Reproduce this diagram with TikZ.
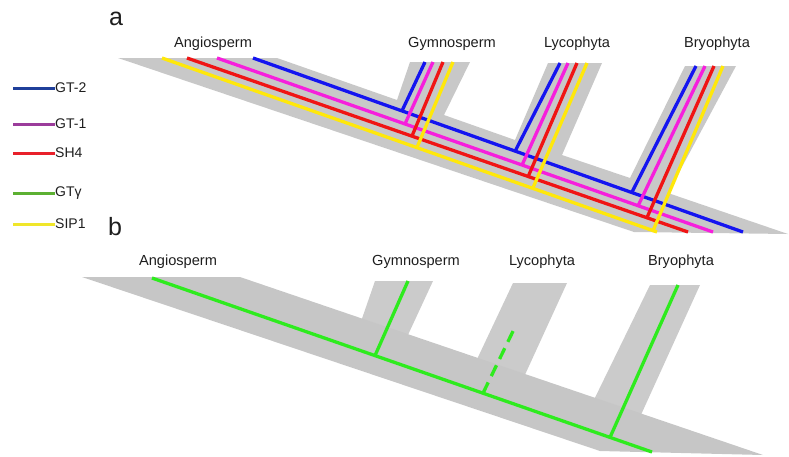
\documentclass[tikz,border=0pt]{standalone}
\usepackage{fontspec}
\setmainfont{Liberation Sans}
\usetikzlibrary{calc}
\definecolor{greya}{HTML}{C8C8C8}
\definecolor{greybr}{HTML}{CBCBCB}
\definecolor{greytr}{HTML}{C6C6C6}
\definecolor{txt}{HTML}{1E1E1E}
\definecolor{cblue}{HTML}{1414F0}
\definecolor{cmag}{HTML}{F61FDC}
\definecolor{cred}{HTML}{F01414}
\definecolor{cyel}{HTML}{FFE80A}
\definecolor{cgreen}{HTML}{2EEB1E}
\definecolor{lgblue}{HTML}{1F3F9A}
\definecolor{lgpurp}{HTML}{9B3C9B}
\definecolor{lgred}{HTML}{E8202A}
\definecolor{lggreen}{HTML}{5CB032}
\definecolor{lgyel}{HTML}{F0E62A}
\begin{document}
\begin{tikzpicture}[x=1pt,y=-1pt,
  lbl/.style={font=\fontsize{14.6}{17}\selectfont, text=txt, anchor=base, inner sep=0pt},
  plbl/.style={font=\fontsize{25}{30}\selectfont, text=txt, anchor=base, inner sep=0pt},
  leg/.style={font=\fontsize{14}{16}\selectfont, text=txt, anchor=west, inner sep=0pt},
  ln/.style={line width=3.3pt},
  lgl/.style={line width=3pt}]
\useasboundingbox (0,0) rectangle (789,456);

% ---------------- panel a ----------------
\fill[greya] (118,58) -- (277,58) -- (397,100) -- (410,62) -- (470,62) -- (444,115)
  -- (515,140) -- (548,63) -- (602,63) -- (562,155) -- (630,178) -- (685,66)
  -- (736,66) -- (668,193) -- (788,234) -- (634,232) -- cycle;

\coordinate (B0) at (253,58); \coordinate (B1) at (743,232);
\coordinate (M0) at (217,58); \coordinate (M1) at (713,232);
\coordinate (R0) at (187,58); \coordinate (R1) at (688,232);
\coordinate (Y0) at (162,58); \coordinate (Y1) at (657,232);

% junctions
\coordinate (gB) at ($(B0)!0.304!(B1)$); \coordinate (gM) at ($(M0)!0.379!(M1)$);
\coordinate (gR) at ($(R0)!0.449!(R1)$); \coordinate (gY) at ($(Y0)!0.515!(Y1)$);
\coordinate (lB) at ($(B0)!0.535!(B1)$); \coordinate (lM) at ($(M0)!0.615!(M1)$);
\coordinate (lR) at ($(R0)!0.681!(R1)$); \coordinate (lY) at ($(Y0)!0.749!(Y1)$);
\coordinate (bB) at ($(B0)!0.773!(B1)$); \coordinate (bM) at ($(M0)!0.849!(M1)$);
\coordinate (bR) at ($(R0)!0.918!(R1)$); \coordinate (bY) at ($(Y0)!0.992!(Y1)$);
% branch tips
\coordinate (gBt) at (425,62); \coordinate (gMt) at (433,62);
\coordinate (gRt) at (443,62); \coordinate (gYt) at (453,62);
\coordinate (lBt) at (560,63); \coordinate (lMt) at (568,63);
\coordinate (lRt) at (577,63); \coordinate (lYt) at (587,63);
\coordinate (bBt) at (696,66); \coordinate (bMt) at (705,66);
\coordinate (bRt) at (714,66); \coordinate (bYt) at (723,66);

\draw[ln,cyel] (Y0) -- (Y1);
\draw[ln,cred] (R0) -- (R1);
\draw[ln,cmag] (M0) -- (M1);
\draw[ln,cblue] (B0) -- (B1);
\draw[ln,cblue] (gB) -- (gBt); \draw[ln,cblue] (lB) -- (lBt); \draw[ln,cblue] (bB) -- (bBt);
\draw[ln,cmag] (gM) -- (gMt); \draw[ln,cmag] (lM) -- (lMt); \draw[ln,cmag] (bM) -- (bMt);
\draw[ln,cred] (gR) -- (gRt); \draw[ln,cred] (lR) -- (lRt); \draw[ln,cred] (bR) -- (bRt);
\draw[ln,cyel] (gY) -- (gYt); \draw[ln,cyel] (lY) -- (lYt); \draw[ln,cyel] (bY) -- (bYt);

\node[plbl] (pa) at (116,25) {a};
\node[lbl] (aAng) at (213,47) {Angiosperm};
\node[lbl] (aGym) at (452,47) {Gymnosperm};
\node[lbl] (aLyc) at (577,47) {Lycophyta};
\node[lbl] (aBry) at (717,47) {Bryophyta};

% ---------------- legend ----------------
\node[leg] (k1) at (55,88) {GT-2};
\node[leg] (k2) at (55,124) {GT-1};
\node[leg] (k3) at (55,153) {SH4};
\node[leg] (k4) at (55,193) {GTγ};
\node[leg] (k5) at (55,224) {SIP1};
\coordinate (k1s) at (13,88); \coordinate (k2s) at (13,124);
\coordinate (k3s) at (13,153); \coordinate (k4s) at (13,193);
\coordinate (k5s) at (13,224);
\draw[lgl,lgblue] (k1s) -- (k1.west);
\draw[lgl,lgpurp] (k2s) -- (k2.west);
\draw[lgl,lgred] (k3s) -- (k3.west);
\draw[lgl,lggreen] (k4s) -- (k4.west);
\draw[lgl,lgyel] (k5s) -- (k5.west);

% ---------------- panel b ----------------
\fill[greybr] (375,281) -- (433,281) -- (401,350) -- (357,333) -- cycle;
\fill[greybr] (513,283) -- (567,283) -- (518,390) -- (471,372) -- cycle;
\fill[greybr] (650,285) -- (700,285) -- (635,428) -- (588,412) -- cycle;
\fill[greytr] (82,277) -- (240,277) -- (763,455) -- (600,451) -- cycle;

\coordinate (G0) at (152,278); \coordinate (G1) at (652,452);
\coordinate (gG) at ($(G0)!0.446!(G1)$);
\coordinate (lG) at ($(G0)!0.662!(G1)$);
\coordinate (bG) at ($(G0)!0.916!(G1)$);
\coordinate (gGt) at (408,281);
\coordinate (lGt) at (516,325);
\coordinate (bGt) at (678,285);
\draw[ln,cgreen] (G0) -- (G1);
\draw[ln,cgreen] (gG) -- (gGt);
\draw[ln,cgreen,dash pattern=on 12pt off 7pt] (lG) -- (lGt);
\draw[ln,cgreen] (bG) -- (bGt);

\node[plbl] (pb) at (115,235) {b};
\node[lbl] (bAng) at (178,265) {Angiosperm};
\node[lbl] (bGym) at (416,265) {Gymnosperm};
\node[lbl] (bLyc) at (542,265) {Lycophyta};
\node[lbl] (bBry) at (681,265) {Bryophyta};
\end{tikzpicture}
\end{document}
